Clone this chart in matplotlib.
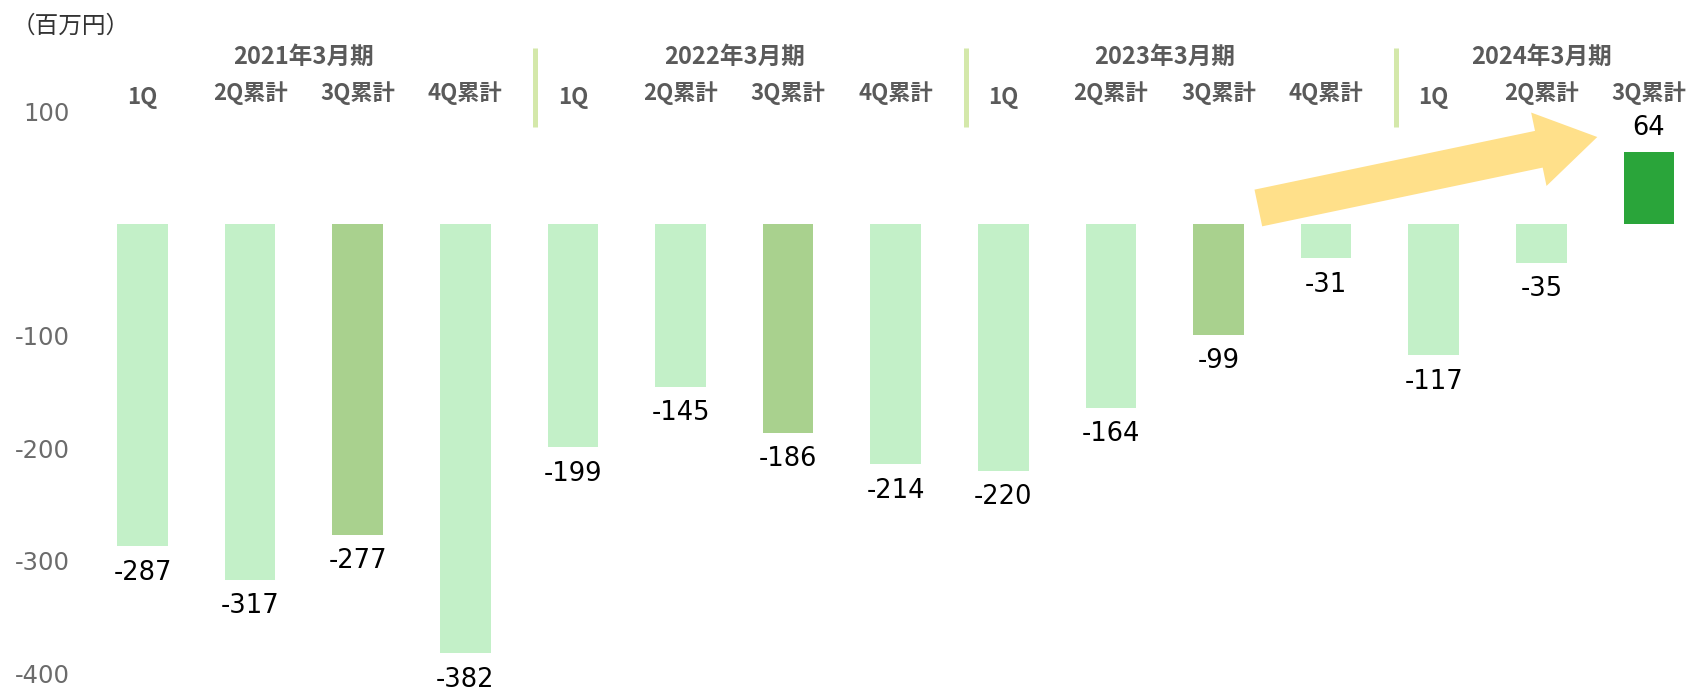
import numpy as np
import matplotlib
matplotlib.use("Agg")
import matplotlib.pyplot as plt

plt.rcParams['font.family'] = ['Noto Sans CJK JP', 'DejaVu Sans']

# data
years = ["2021年3月期", "2022年3月期", "2023年3月期", "2024年3月期"]
quarters = ["1Q", "2Q累計", "3Q累計", "4Q累計",
            "1Q", "2Q累計", "3Q累計", "4Q累計",
            "1Q", "2Q累計", "3Q累計", "4Q累計",
            "1Q", "2Q累計", "3Q累計"]
values = [-287, -317, -277, -382,
          -199, -145, -186, -214,
          -220, -164, -99, -31,
          -117, -35, 64]
ytick_vals = [100, -100, -200, -300, -400]

light = "#C3F0C8"
dark = "#A9D18E"
bright = "#2AA53A"
colors = [light] * len(values)
for i in (2, 6, 10):
    colors[i] = dark
colors[14] = bright

year_x = [1.5, 5.5, 9.5, 13.0]
sep_x = [3.65, 7.65, 11.65]

fig = plt.figure(figsize=(17.05, 6.91), dpi=100)
ax = fig.add_axes([90 / 1705, 0, 1615 / 1705, 1])

x = np.arange(len(values))
ax.bar(x, values, width=0.47, color=colors)

for xi, v in zip(x, values):
    off = 17 if v > 0 else -19
    ax.annotate(str(v), (xi, v), xytext=(0, off), textcoords="offset points",
                ha="center", va="center", fontsize=18.5, color="black",
                family="DejaVu Sans")

ax.set_xlim(-0.488, 14.521)
ax.set_ylim(-415.6, 198.7)
ax.set_yticks(ytick_vals)
ax.set_yticklabels([str(v) for v in ytick_vals], family="DejaVu Sans")
ax.tick_params(axis="y", length=0, pad=14.4, labelsize=17.5, labelcolor="#6b6b6b")
ax.set_xticks([])
for s in ax.spines.values():
    s.set_visible(False)

# headers
for i, q in enumerate(quarters):
    yq = 112 if q == "1Q" else 116
    ax.text(i, yq, q, ha="center", va="center", fontsize=16,
            fontweight="bold", color="#5a5a5a", clip_on=False)
for yx, yl in zip(year_x, years):
    ax.text(yx, 148, yl, ha="center", va="center", fontsize=17,
            fontweight="bold", color="#5a5a5a", clip_on=False)
for sx in sep_x:
    ax.plot([sx, sx], [86, 156], color="#D4E8AA", lw=3.6, solid_capstyle="butt")

fig.text(12 / 1705, 1 - 26 / 691, "（百万円）", ha="left", va="center",
         fontsize=17, color="#333333")

# arrow
ax.annotate("", xy=(13.52, 76.9), xytext=(10.37, 13.8),
            arrowprops=dict(arrowstyle="simple,head_length=4.3,head_width=5.4,tail_width=2.7",
                            mutation_scale=10, color="#FFE08A", lw=0,
                            shrinkA=0, shrinkB=0))

fig.savefig("out.png", dpi=100)
